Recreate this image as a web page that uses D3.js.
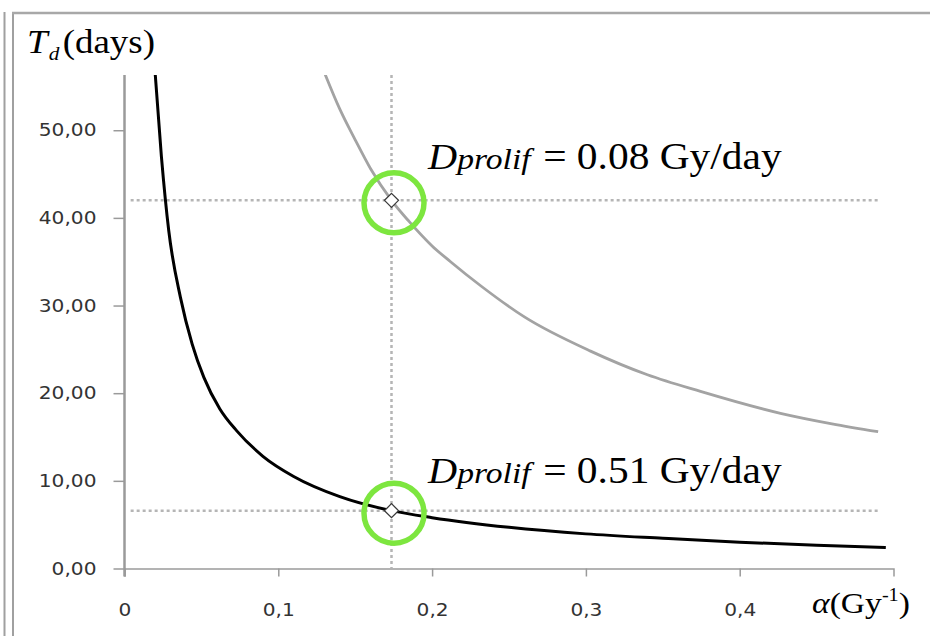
<!DOCTYPE html>
<html>
<style>
    body {
      margin: 0;
      overflow: hidden;
      background: #fff;
    }
    .axis path, .axis line {
      stroke: #9a9a9a;
    }
    .axis text {
      font-family: "DejaVu Sans";
      font-size: 18px;
      fill: #333;
    }
    .guide {
      stroke: #b5b5b5;
      stroke-width: 2.5;
      stroke-dasharray: 3, 3;
      fill: none;
    }
    .serif {
      font-family: "Liberation Serif";
      fill: #000;
    }
</style>
<script src="https://d3js.org/d3.v7.min.js"></script>
<svg></svg>
<script>
// values: alpha (Gy^-1) against Td (days)
var alphaTicks = [0, 0.1, 0.2, 0.3, 0.4];
var tdTicks = [0, 10, 20, 30, 40, 50];

// Dprolif = 0.51 Gy/day (black)
var highRate = [
  [0.0195, 57.5], [0.0240, 47.0], [0.0288, 38.5], [0.0364, 30.9], [0.0440, 25.6],
  [0.0516, 21.8], [0.0620, 18.2], [0.0730, 15.7], [0.0900, 12.8], [0.1100, 10.5],
  [0.1400, 8.2], [0.1736, 6.6], [0.2000, 5.8], [0.2500, 4.7], [0.3000, 3.95],
  [0.3500, 3.45], [0.4000, 3.0], [0.4500, 2.65], [0.4950, 2.4]
];

// Dprolif = 0.08 Gy/day (grey)
var lowRate = [
  [0.1290, 57.0], [0.1400, 52.4], [0.1500, 48.9], [0.1600, 45.6], [0.1736, 42.0],
  [0.1850, 39.6], [0.2000, 36.8], [0.2120, 35.0], [0.2320, 32.2], [0.2600, 28.7],
  [0.3030, 24.8], [0.3400, 22.1], [0.3745, 20.2], [0.4265, 17.7], [0.4600, 16.5],
  [0.4900, 15.6]
];

var markerAlpha = 0.1736;
var markerTd = [42.0, 6.6];
var rateLabels = ["0.08", "0.51"];

var width = 930,
    height = 636,
    stretch = 1.12;   // the picture is a little wider than tall

var x = d3.scaleLinear().domain([0, 0.5]).range([124.5, 893.5]),
    y = d3.scaleLinear().domain([0, 56.3]).range([568.5, 75]);

var comma = d3.formatLocale({decimal: ",", thousands: ".", grouping: [3], currency: ["", ""]});

var svg = d3.select("svg")
    .attr("width", width)
    .attr("height", height);

svg.append("rect")
    .attr("width", width)
    .attr("height", height)
    .attr("fill", "#fff");

// window frame
svg.append("line").attr("x1", 4.5).attr("x2", 4.5).attr("y1", 12).attr("y2", height)
    .attr("stroke", "#a0a0a0").attr("stroke-width", 2);
svg.append("line").attr("x1", 13).attr("x2", 13).attr("y1", 12).attr("y2", height)
    .attr("stroke", "#a0a0a0").attr("stroke-width", 2);
svg.append("line").attr("x1", 12).attr("x2", width).attr("y1", 13).attr("y2", 13)
    .attr("stroke", "#a8a8a8").attr("stroke-width", 2.5);

// axes
var xAxis = svg.append("g")
    .attr("class", "axis")
    .attr("transform", "translate(0," + y(0) + ")")
    .call(d3.axisBottom(x)
      .tickValues(alphaTicks)
      .tickSize(8)
      .tickSizeOuter(8)
      .tickPadding(27)
      .tickFormat(function(d) { return d === 0 ? "0" : comma.format(".1f")(d) }));

xAxis.select(".domain").attr("stroke-width", 1.5);
xAxis.selectAll(".tick line").attr("stroke-width", 1.5);
xAxis.selectAll(".tick text").attr("transform", "scale(" + stretch + ",1)");

var yAxis = svg.append("g")
    .attr("class", "axis")
    .attr("transform", "translate(" + x(0) + ",0)")
    .call(d3.axisLeft(y)
      .tickValues(tdTicks)
      .tickSize(11)
      .tickSizeOuter(0)
      .tickFormat(comma.format(".2f")));

yAxis.select(".domain")
    .attr("d", "M0," + (y(0) + 8) + "V" + y.range()[1])
    .attr("stroke-width", 2.5)
    .attr("stroke", "#a8a8a8");
yAxis.selectAll(".tick line").attr("stroke-width", 1.5);
yAxis.selectAll(".tick text")
    .attr("x", 0)
    .attr("transform", "translate(-28,0) scale(" + stretch + ",1)");

// dotted guides through the two marked points
svg.append("line")
    .attr("class", "guide")
    .attr("x1", x(markerAlpha)).attr("x2", x(markerAlpha))
    .attr("y1", y.range()[1]).attr("y2", y(0));

svg.selectAll(".hguide")
    .data(markerTd)
  .enter().append("line")
    .attr("class", "guide")
    .attr("x1", x(0.004)).attr("x2", x(0.49))
    .attr("y1", function(d) { return y(d) })
    .attr("y2", function(d) { return y(d) });

// curves
svg.append("clipPath")
    .attr("id", "plot-clip")
  .append("rect")
    .attr("x", x(0))
    .attr("y", y.range()[1])
    .attr("width", x(0.5) - x(0))
    .attr("height", y(0) - y.range()[1]);

var line = d3.line()
    .curve(d3.curveMonotoneX)
    .x(function(d) { return x(d[0]) })
    .y(function(d) { return y(d[1]) });

svg.append("path")
    .datum(lowRate)
    .attr("clip-path", "url(#plot-clip)")
    .attr("fill", "none")
    .attr("stroke", "#a3a3a3")
    .attr("stroke-width", 2.8)
    .attr("d", line);

svg.append("path")
    .datum(highRate)
    .attr("clip-path", "url(#plot-clip)")
    .attr("fill", "none")
    .attr("stroke", "#000")
    .attr("stroke-width", 3)
    .attr("d", line);

// diamond markers and green rings
svg.selectAll(".marker")
    .data(markerTd)
  .enter().append("path")
    .attr("class", "marker")
    .attr("transform", function(d) { return "translate(" + x(markerAlpha) + "," + y(d) + ")" })
    .attr("d", "M0,-7L7,0L0,7L-7,0Z")
    .attr("fill", "#fff")
    .attr("stroke", "#3a3a3a")
    .attr("stroke-width", 1.3);

svg.selectAll(".ring")
    .data(markerTd)
  .enter().append("circle")
    .attr("class", "ring")
    .attr("cx", x(markerAlpha) + 2.5)
    .attr("cy", function(d) { return y(d) + 2.5 })
    .attr("r", 30)
    .attr("fill", "none")
    .attr("stroke", "#7de63f")
    .attr("stroke-width", 5.5);

// annotations
var notes = svg.selectAll(".note")
    .data(rateLabels)
  .enter().append("text")
    .attr("class", "serif")
    .attr("font-size", 37)
    .attr("transform", function(d, i) {
      return "translate(428," + [169, 483][i] + ") scale(" + stretch + ",1)"
    });

notes.append("tspan").attr("font-style", "italic").attr("font-size", 36).text("D");
notes.append("tspan").attr("font-style", "italic").attr("font-size", 30).text("prolif");
notes.append("tspan").attr("dx", 2).text(function(d) { return " = " + d + " Gy/day" });

// axis titles
var yTitle = svg.append("text")
    .attr("class", "serif")
    .attr("font-size", 33)
    .attr("transform", "translate(27,53) scale(" + stretch + ",1)");
yTitle.append("tspan").attr("font-style", "italic").text("T");
yTitle.append("tspan").attr("font-style", "italic").attr("font-size", 19).attr("dx", 1).attr("dy", 7).text("d");
yTitle.append("tspan").attr("dx", 3).attr("dy", -7).text("(days)");

var xTitle = svg.append("text")
    .attr("class", "serif")
    .attr("font-size", 30)
    .attr("transform", "translate(812,613) scale(" + stretch + ",1)");
xTitle.append("tspan").attr("font-style", "italic").text("α");
xTitle.append("tspan").text("(Gy");
xTitle.append("tspan").attr("font-size", 18).attr("dy", -12).text("-1");
xTitle.append("tspan").attr("dy", 12).text(")");
</script>
</html>
